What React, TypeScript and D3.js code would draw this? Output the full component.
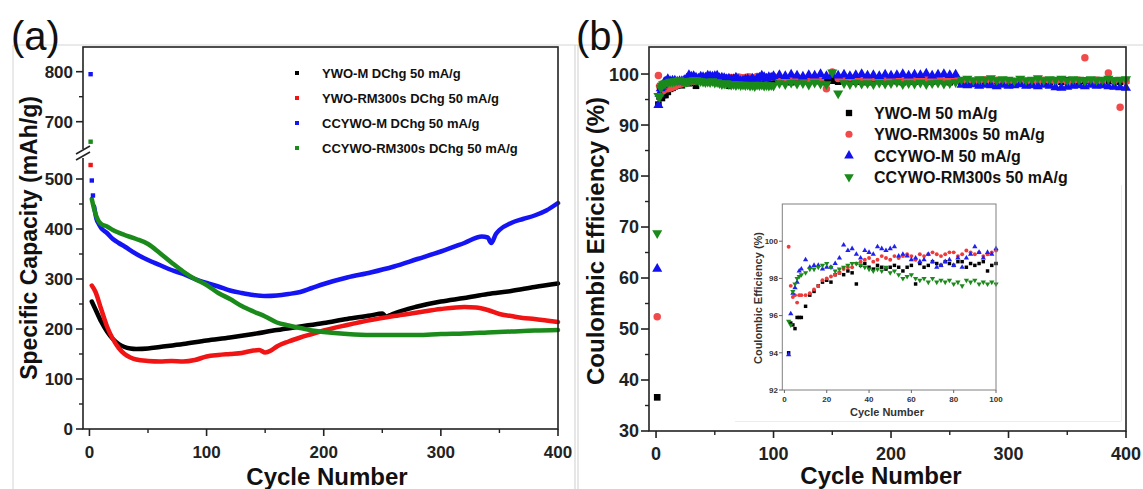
import React from 'react';
import * as d3 from 'd3';

// ---------------- Panel (a): specific capacity ----------------
const aLegend = ['YWO-M DChg 50 mA/g', 'YWO-RM300s DChg 50 mA/g', 'CCYWO-M DChg 50 mA/g', 'CCYWO-RM300s DChg 50 mA/g'];
const aColors = ['#000000', '#f01414', '#1414f5', '#1a8a1a'];

const blackCycles = [2, 5, 10, 15, 20, 25, 30, 35, 40, 50, 60, 80, 100, 120, 140, 160, 180, 200, 220, 240, 250, 253, 256, 260, 280, 300, 320, 340, 360, 380, 400];
const blackCap = [255, 240, 215, 195, 180, 170, 164, 161, 160, 161, 164, 170, 177, 183, 190, 198, 205, 212, 220, 227, 231, 225, 227, 231, 245, 255, 262, 270, 276, 284, 291];

const redCycles = [2, 5, 10, 15, 20, 25, 30, 35, 40, 50, 60, 70, 80, 90, 100, 110, 120, 130, 140, 145, 150, 155, 160, 170, 180, 190, 200, 220, 240, 260, 280, 300, 320, 330, 340, 350, 360, 370, 380, 390, 400];
const redCap = [287, 275, 240, 205, 180, 162, 150, 143, 139, 136, 135, 136, 135, 138, 145, 148, 150, 152, 157, 158, 153, 157, 165, 175, 183, 190, 197, 208, 218, 226, 233, 240, 244, 243, 238, 230, 226, 222, 220, 217, 214];

const blueCycles = [4, 6, 8, 10, 15, 20, 25, 30, 40, 50, 60, 70, 80, 90, 100, 110, 120, 130, 140, 150, 160, 170, 180, 190, 200, 220, 240, 260, 280, 300, 320, 335, 340, 343, 347, 350, 360, 370, 380, 390, 400];
const blueCap = [445, 420, 410, 402, 392, 380, 372, 365, 350, 338, 328, 318, 310, 300, 292, 285, 277, 272, 268, 266, 267, 270, 274, 282, 290, 303, 313, 325, 340, 355, 372, 385, 383, 372, 390, 398, 412, 420, 427, 437, 452];

const greenCycles = [2, 4, 6, 8, 10, 15, 20, 30, 40, 50, 60, 70, 80, 90, 100, 110, 120, 130, 140, 150, 160, 170, 180, 190, 200, 220, 240, 260, 280, 300, 320, 340, 360, 380, 400];
const greenCap = [460, 440, 425, 415, 410, 405, 398, 388, 380, 370, 352, 333, 315, 300, 288, 272, 260, 246, 235, 225, 213, 207, 202, 197, 194, 190, 188, 188, 188, 190, 191, 193, 195, 197, 198];

// first-cycle points (series index, cycle, value)
const aEarlySeries = [2, 2, 2, 3, 1];
const aEarlyCycles = [1, 2, 3, 1, 1];
const aEarlyValues = [795, 497, 467, 660, 528];

const aYTicksLow = [0, 100, 200, 300, 400, 500];
const aYMinorLow = [50, 150, 250, 350, 450];
const aYTicksHigh = [700, 800];
const aYMinorHigh = [750];
const xTicks = [0, 100, 200, 300, 400];
const xMinor = [50, 150, 250, 350];

// ---------------- Panel (b): coulombic efficiency ----------------
const bLegend = ['YWO-M 50 mA/g', 'YWO-RM300s 50 mA/g', 'CCYWO-M 50 mA/g', 'CCYWO-RM300s 50 mA/g'];
const bColors = ['#000000', '#f04a4a', '#1010f0', '#1a8a1a'];
const bInsetColors = ['#000000', '#f03a3a', '#2020f0', '#1a8a1a'];

const firstCycleCE = [36.6, 52.4, 61.8, 68.8];

const insetCycles = [2, 3, 4, 5, 6, 7, 8, ...d3.range(10, 101, 2)];
const ceBlackEarly = [94.0, 95.6, 95.5, 95.3, 95.9, 95.9, 95.9, 96.5, 97.1, 97.3, 97.6, 97.8, 97.9, 97.8, 98.2, 98.3, 98.2, 98.4, 98.3, 97.7, 98.7, 98.8, 98.6, 98.5, 98.7, 98.6, 98.5, 98.6, 98.7, 98.6, 98.4, 98.6, 98.7, 97.7, 98.8, 98.6, 98.7, 98.9, 98.8, 98.7, 98.9, 98.8, 98.7, 98.9, 98.9, 98.6, 98.8, 98.7, 98.8, 98.9, 98.4, 98.7, 98.8];
const ceRedEarly = [99.7, 97.6, 97.0, 97.1, 96.7, 97.1, 97.1, 97.1, 97.2, 97.4, 97.6, 97.9, 98.0, 98.1, 98.2, 98.3, 98.5, 98.6, 98.6, 98.8, 98.9, 99.0, 99.1, 98.9, 99.0, 99.2, 99.1, 99.0, 99.2, 99.1, 99.2, 99.3, 99.2, 99.0, 99.3, 99.2, 99.3, 99.4, 99.3, 99.2, 99.3, 99.4, 99.4, 99.2, 99.3, 99.5, 99.4, 99.3, 99.4, 99.2, 99.3, 99.4, 99.5];
const ceBlueEarly = [93.9, 96.1, 97.2, 97.5, 97.8, 98.4, 98.5, 99.0, 98.6, 98.7, 98.7, 98.5, 98.6, 98.6, 98.8, 99.1, 99.8, 99.5, 99.6, 99.3, 99.1, 99.5, 99.4, 99.3, 99.7, 99.6, 99.5, 99.6, 99.7, 99.2, 99.3, 99.2, 99.0, 99.1, 98.9, 99.0, 99.3, 98.9, 98.6, 98.7, 98.9, 99.0, 98.7, 99.1, 98.6, 99.1, 99.3, 99.7, 99.4, 99.1, 99.4, 99.3, 99.6];
const ceGreenEarly = [95.7, 95.5, 97.3, 97.7, 98.0, 98.1, 98.2, 98.3, 98.5, 98.5, 98.6, 98.7, 98.8, 98.6, 98.4, 98.5, 98.6, 98.7, 98.8, 98.8, 98.7, 98.6, 98.5, 98.4, 98.5, 98.4, 98.6, 98.3, 98.4, 98.2, 98.0, 98.1, 98.2, 98.0, 97.9, 98.0, 97.8, 98.0, 97.8, 97.9, 97.8, 97.9, 97.7, 97.8, 97.6, 97.9, 97.8, 97.9, 97.7, 97.8, 97.7, 97.8, 97.7];

const longCycles = d3.range(105, 401, 5);
const ceBlackLate = [98.5, 98.7, 98.4, 98.6, 98.8, 98.5, 98.7, 98.6, 98.4, 98.7, 98.5, 98.8, 98.6, 98.5, 98.7, 98.4, 98.6, 98.8, 98.5, 98.7, 98.6, 98.4, 98.7, 98.5, 98.8, 98.6, 98.5, 98.7, 98.6, 98.4, 98.7,
  98.5, 98.7, 98.6, 98.8, 98.5, 98.7, 98.6, 98.4, 98.7, 98.5, 98.8, 98.6, 98.5, 98.7, 98.6, 98.4, 98.7, 98.5, 98.8, 98.6, 98.5, 98.7, 98.6, 98.8, 98.5, 98.7, 98.6, 98.5, 98.7];
const ceRedLate = [99.3, 99.0, 99.2, 99.4, 99.1, 98.9, 99.2, 99.0, 97.1, 100.4, 99.1, 99.0, 99.3, 99.1, 99.2, 99.0, 99.3, 99.1, 98.9, 99.2, 99.0, 99.1, 99.3, 99.0, 99.2, 99.1, 98.9, 99.2, 99.0, 99.1, 99.3,
  98.6, 98.8, 98.5, 98.7, 98.9, 98.6, 98.8, 98.5, 98.7, 98.6, 98.8, 98.5, 98.7, 98.6, 98.8, 98.7, 98.6, 98.9, 98.5, 98.7, 98.8, 103.2, 98.6, 98.8, 98.5, 100.2, 98.7, 93.5, 98.6];
const ceBlueLate = [99.8, 99.6, 99.9, 99.7, 99.5, 99.8, 99.7, 100.0, 99.6, 99.8, 99.7, 99.9, 99.6, 99.8, 100.0, 99.7, 99.8, 99.6, 99.9, 99.7, 99.8, 100.0, 99.7, 99.9, 99.8, 100.1, 99.7, 99.9, 100.0, 99.8, 99.9,
  97.9, 97.8, 98.0, 97.7, 97.9, 97.8, 97.6, 97.9, 97.7, 97.8, 98.0, 97.7, 97.8, 97.6, 97.9, 97.7, 97.4, 97.3, 97.5, 97.7, 97.8, 97.6, 97.9, 97.7, 97.8, 97.6, 97.5, 97.4, 97.3];
const ceGreenLate = [98.2, 98.0, 98.3, 98.1, 98.2, 97.9, 98.3, 98.1, 98.0, 100.3, 96.2, 98.2, 98.0, 98.3, 98.1, 98.2, 98.0, 98.3, 98.1, 98.2, 98.4, 98.0, 98.2, 98.1, 98.3, 98.0, 98.2, 98.3, 98.1, 98.2, 98.4,
  98.9, 99.1, 98.8, 99.0, 98.9, 99.2, 98.8, 99.0, 98.9, 98.7, 99.1, 98.8, 98.9, 99.2, 98.8, 99.0, 98.9, 99.1, 98.8, 99.0, 98.9, 98.7, 99.0, 98.8, 98.9, 99.1, 98.8, 98.9, 99.0];

const bYTicks = [30, 40, 50, 60, 70, 80, 90, 100];
const bYMinor = [35, 45, 55, 65, 75, 85, 95];
const insetXTicks = [0, 20, 40, 60, 80, 100];
const insetYTicks = [92, 94, 96, 98, 100];

const FONT = 'Liberation Sans, Arial, Helvetica, sans-serif';

const symbolTypes = [d3.symbolSquare, d3.symbolCircle, d3.symbolTriangle, d3.symbolTriangle];
function sym(i: number, size: number) {
  return d3.symbol().type(symbolTypes[i]).size(size)() as string;
}
const rot = (i: number) => (i === 3 ? ' rotate(180)' : '');

export default function App() {
  // scales panel a
  const ax = d3.scaleLinear().domain([-5.5, 400]).range([83, 558]);
  const ayLow = d3.scaleLinear().domain([0, 550]).range([429, 154]);
  const ayHigh = d3.scaleLinear().domain([636, 850]).range([153.7, 46.7]);

  const aSeries = [
    { c: blackCycles, v: blackCap },
    { c: redCycles, v: redCap },
    { c: blueCycles, v: blueCap },
    { c: greenCycles, v: greenCap },
  ];
  const line = d3
    .line<[number, number]>()
    .x((d) => ax(d[0]))
    .y((d) => ayLow(d[1]))
    .curve(d3.curveMonotoneX);

  // scales panel b
  const bx = d3.scaleLinear().domain([-6, 400]).range([649, 1126]);
  const by = d3.scaleLinear().domain([30, 105.3]).range([431, 47]);
  const ix = d3.scaleLinear().domain([-1, 100]).range([782.3, 996]);
  const iy = d3.scaleLinear().domain([92, 102]).range([390, 204]);

  const early = [ceBlackEarly, ceRedEarly, ceBlueEarly, ceGreenEarly];
  const late = [ceBlackLate, ceRedLate, ceBlueLate, ceGreenLate];
  const bSeries = early.map((e, i) => {
    const pts: [number, number][] = [[1, firstCycleCE[i]]];
    insetCycles.forEach((c, k) => pts.push([c, e[k]]));
    longCycles.forEach((c, k) => pts.push([c, late[i][k]]));
    return pts;
  });

  const axisStroke = '#222';

  return (
    <svg width={1143} height={489} style={{ position: 'absolute', left: 0, top: 0, background: '#fff' }} fontFamily={FONT}>
      <rect x={0} y={0} width={1143} height={489} fill="#fff" />
      {/* faint image borders */}
      <line x1={13} y1={45} x2={1143} y2={45} stroke="#d4d4d4" strokeWidth={1} />
      <line x1={13} y1={45} x2={13} y2={489} stroke="#d4d4d4" strokeWidth={1} />
      <line x1={575} y1={45} x2={575} y2={489} stroke="#cfcfcf" strokeWidth={1} />
      <line x1={578} y1={45} x2={578} y2={489} stroke="#cfcfcf" strokeWidth={1} />
      <line x1={1121.5} y1={185} x2={1121.5} y2={421} stroke="#ececec" strokeWidth={1} />
      <line x1={735} y1={421.5} x2={1121} y2={421.5} stroke="#ececec" strokeWidth={1} />

      {/* ================= PANEL A ================= */}
      <text x={11} y={50} fontSize={40} fill="#111">(a)</text>

      {aSeries.map((s, i) => (
        <path
          key={'al' + i}
          d={line(s.c.map((c, k) => [c, s.v[k]] as [number, number])) as string}
          fill="none"
          stroke={aColors[i]}
          strokeWidth={4.5}
          strokeLinejoin="round"
          strokeLinecap="round"
        />
      ))}
      {aEarlyValues.map((v, k) => {
        const y = v > 600 ? ayHigh(v) : ayLow(v);
        return (
          <rect key={'ae' + k} x={ax(aEarlyCycles[k]) - 2.2} y={y - 2.2} width={4.4} height={4.4} fill={aColors[aEarlySeries[k]]} />
        );
      })}

      <rect x={83} y={47} width={475} height={382} fill="none" stroke={axisStroke} strokeWidth={1.6} />
      <rect x={79} y={149} width={8} height={9} fill="#fff" />
      <line x1={76} y1={154} x2={90} y2={146} stroke={axisStroke} strokeWidth={1.5} />
      <line x1={76} y1={160} x2={90} y2={152} stroke={axisStroke} strokeWidth={1.5} />

      {aYTicksLow.map((t) => (
        <g key={'ayt' + t}>
          <line x1={76} x2={83} y1={ayLow(t)} y2={ayLow(t)} stroke={axisStroke} strokeWidth={1.6} />
          <text x={73} y={ayLow(t)} dy="0.36em" textAnchor="end" fontSize={17} fontWeight="bold" fill="#222">{t}</text>
        </g>
      ))}
      {aYMinorLow.map((t) => (
        <line key={'aym' + t} x1={79} x2={83} y1={ayLow(t)} y2={ayLow(t)} stroke={axisStroke} strokeWidth={1.4} />
      ))}
      {aYTicksHigh.map((t) => (
        <g key={'ayh' + t}>
          <line x1={76} x2={83} y1={ayHigh(t)} y2={ayHigh(t)} stroke={axisStroke} strokeWidth={1.6} />
          <text x={73} y={ayHigh(t)} dy="0.36em" textAnchor="end" fontSize={17} fontWeight="bold" fill="#222">{t}</text>
        </g>
      ))}
      {aYMinorHigh.map((t) => (
        <line key={'aymh' + t} x1={79} x2={83} y1={ayHigh(t)} y2={ayHigh(t)} stroke={axisStroke} strokeWidth={1.4} />
      ))}
      {xTicks.map((t) => (
        <g key={'axt' + t}>
          <line x1={ax(t)} x2={ax(t)} y1={429} y2={436} stroke={axisStroke} strokeWidth={1.6} />
          <text x={ax(t)} y={458} textAnchor="middle" fontSize={17} fontWeight="bold" fill="#222">{t}</text>
        </g>
      ))}
      {xMinor.map((t) => (
        <line key={'axm' + t} x1={ax(t)} x2={ax(t)} y1={429} y2={433} stroke={axisStroke} strokeWidth={1.4} />
      ))}
      <text x={327} y={485} textAnchor="middle" fontSize={24} fontWeight="bold" fill="#111">Cycle Number</text>
      <text transform="translate(37,238) rotate(-90)" textAnchor="middle" fontSize={23} fontWeight="bold" fill="#111">
        Specific Capacity (mAh/g)
      </text>

      {aLegend.map((l, i) => (
        <g key={'ala' + i}>
          <rect x={295} y={73 + i * 25 - 2} width={4} height={4} fill={aColors[i]} />
          <text x={322} y={73 + i * 25 + 4.6} fontSize={13} fontWeight="bold" fill="#111">{l}</text>
        </g>
      ))}

      {/* ================= PANEL B ================= */}
      <text x={576} y={50} fontSize={40} fill="#111">(b)</text>

      {bSeries.map((pts, i) => (
        <g key={'bs' + i} fill={bColors[i]}>
          {pts.map((p, k) => (
            <path key={k} d={sym(i, 44)} transform={`translate(${bx(p[0])},${by(p[1])})${rot(i)}`} />
          ))}
        </g>
      ))}

      <rect x={649} y={47} width={477} height={384} fill="none" stroke={axisStroke} strokeWidth={1.6} />
      {bYTicks.map((t) => (
        <g key={'byt' + t}>
          <line x1={641} x2={649} y1={by(t)} y2={by(t)} stroke={axisStroke} strokeWidth={1.6} />
          <text x={639} y={by(t)} dy="0.36em" textAnchor="end" fontSize={18} fontWeight="bold" fill="#222">{t}</text>
        </g>
      ))}
      {bYMinor.map((t) => (
        <line key={'bym' + t} x1={645} x2={649} y1={by(t)} y2={by(t)} stroke={axisStroke} strokeWidth={1.4} />
      ))}
      {xTicks.map((t) => (
        <g key={'bxt' + t}>
          <line x1={bx(t)} x2={bx(t)} y1={431} y2={438} stroke={axisStroke} strokeWidth={1.6} />
          <text x={bx(t)} y={460} textAnchor="middle" fontSize={18} fontWeight="bold" fill="#222">{t}</text>
        </g>
      ))}
      {xMinor.map((t) => (
        <line key={'bxm' + t} x1={bx(t)} x2={bx(t)} y1={431} y2={435} stroke={axisStroke} strokeWidth={1.4} />
      ))}
      <text x={881} y={484} textAnchor="middle" fontSize={24} fontWeight="bold" fill="#111">Cycle Number</text>
      <text transform="translate(604,241) rotate(-90)" textAnchor="middle" fontSize={24} fontWeight="bold" fill="#111">
        Coulombic Efficiency (%)
      </text>

      {bLegend.map((l, i) => (
        <g key={'blg' + i}>
          <path d={sym(i, 40)} transform={`translate(849,${113 + i * 21.3})${rot(i)}`} fill={bColors[i]} />
          <text x={874} y={113 + i * 21.3 + 6} fontSize={16} fontWeight="bold" fill="#111">{l}</text>
        </g>
      ))}

      {/* ================= INSET ================= */}
      {early.map((e, i) => (
        <g key={'is' + i} fill={bInsetColors[i]}>
          {insetCycles.map((c, k) => (
            <path key={k} d={sym(i, 12)} transform={`translate(${ix(c)},${iy(e[k])})${rot(i)}`} />
          ))}
        </g>
      ))}
      <rect x={782.3} y={204} width={213.7} height={186} fill="none" stroke="#808080" strokeWidth={1} />
      {insetYTicks.map((t) => (
        <g key={'iyt' + t}>
          <line x1={779} x2={782.3} y1={iy(t)} y2={iy(t)} stroke="#666" strokeWidth={1} />
          <text x={778} y={iy(t)} dy="0.35em" textAnchor="end" fontSize={8} fontWeight="bold" fill="#333">{t}</text>
        </g>
      ))}
      {insetXTicks.map((t) => (
        <g key={'ixt' + t}>
          <line x1={ix(t)} x2={ix(t)} y1={390} y2={393} stroke="#666" strokeWidth={1} />
          <text x={ix(t)} y={402} textAnchor="middle" fontSize={8} fontWeight="bold" fill="#333">{t}</text>
        </g>
      ))}
      <text x={887} y={416} textAnchor="middle" fontSize={11} fontWeight="bold" fill="#333">Cycle Number</text>
      <text transform="translate(762,298) rotate(-90)" textAnchor="middle" fontSize={11} fontWeight="bold" fill="#333">
        Coulombic Efficiency (%)
      </text>
    </svg>
  );
}
